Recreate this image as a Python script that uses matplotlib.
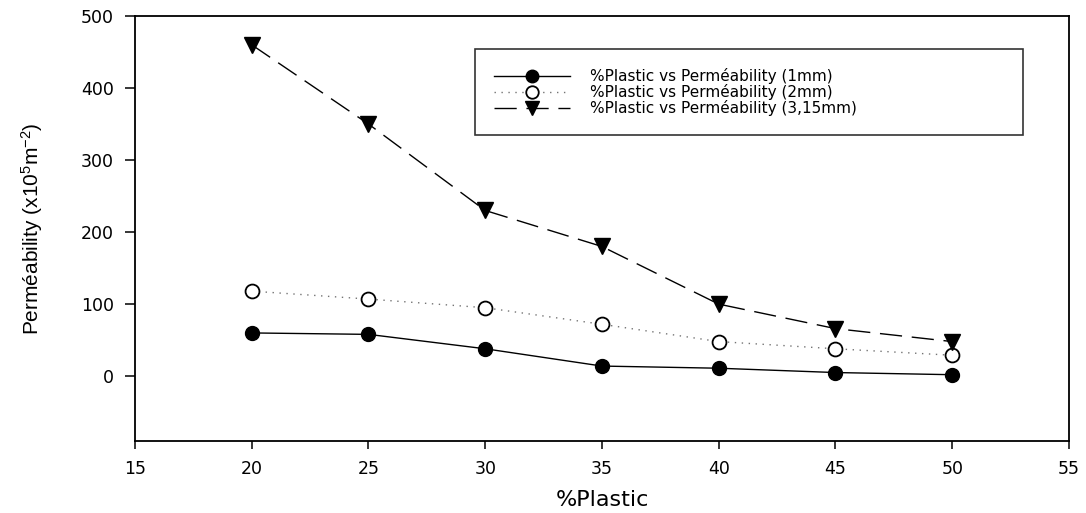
import matplotlib
matplotlib.use('Agg')
import matplotlib.pyplot as plt

# ── Data ──────────────────────────────────────────────────────────────────────
plastic_pct = [20, 25, 30, 35, 40, 45, 50]
perm_1mm    = [60, 58, 38, 14, 11, 5, 2]
perm_2mm    = [118, 107, 95, 72, 48, 38, 29]
perm_315mm  = [460, 350, 230, 180, 100, 66, 48]

x_ticks = [15, 20, 25, 30, 35, 40, 45, 50, 55]
y_ticks = [0, 100, 200, 300, 400, 500]

labels = ['%Plastic vs Perméability (1mm)',
          '%Plastic vs Perméability (2mm)',
          '%Plastic vs Perméability (3,15mm)']

# ── Style ─────────────────────────────────────────────────────────────────────
plt.rcParams['font.family'] = ['DejaVu Sans']
plt.rcParams['mathtext.fontset'] = 'custom'
plt.rcParams['mathtext.rm'] = 'Liberation Sans'
plt.rcParams['mathtext.default'] = 'regular'

fig = plt.figure(figsize=(10.86, 5.13), dpi=100)
ax = fig.add_axes([0.1243, 0.1404, 0.86, 0.8284])

ax.plot(plastic_pct, perm_1mm, color='black', lw=1.0, marker='o',
        ms=10, mfc='black', mec='black', label=labels[0])
ax.plot(plastic_pct, perm_2mm, color='0.45', lw=1.0, ls=(0, (1, 4)),
        marker='o', ms=10, mfc='white', mec='black', mew=1.3, label=labels[1])
ax.plot(plastic_pct, perm_315mm, color='black', lw=1.0, ls=(0, (16, 7)),
        marker='v', ms=11, mfc='black', mec='black', label=labels[2])

ax.set_xlim(15, 55)
ax.set_ylim(-90, 500)
ax.set_xticks(x_ticks)
ax.set_yticks(y_ticks)

for s in ax.spines.values():
    s.set_linewidth(1.3)
ax.tick_params(direction='out', length=6, width=1.1, labelsize=12.5, pad=8)
ax.tick_params(axis='y', length=7)

ax.set_xlabel('%Plastic', fontsize=16, labelpad=8)
ax.set_ylabel('Perméability (x10$^5$m$^{-2}$)', fontsize=15,
              family=['Liberation Sans', 'DejaVu Sans'], labelpad=26)

leg = ax.legend(loc='upper left', bbox_to_anchor=(0.364, 0.72, 0.587, 0.202),
                mode='expand', borderaxespad=0, fontsize=11, frameon=True,
                fancybox=False, edgecolor='black', handlelength=5.0,
                handletextpad=1.25, labelspacing=0.0, borderpad=1.25,
                numpoints=1, markerscale=0.9)
leg.get_frame().set_linewidth(1.2)

fig.savefig('out.png', dpi=100, facecolor='white')
